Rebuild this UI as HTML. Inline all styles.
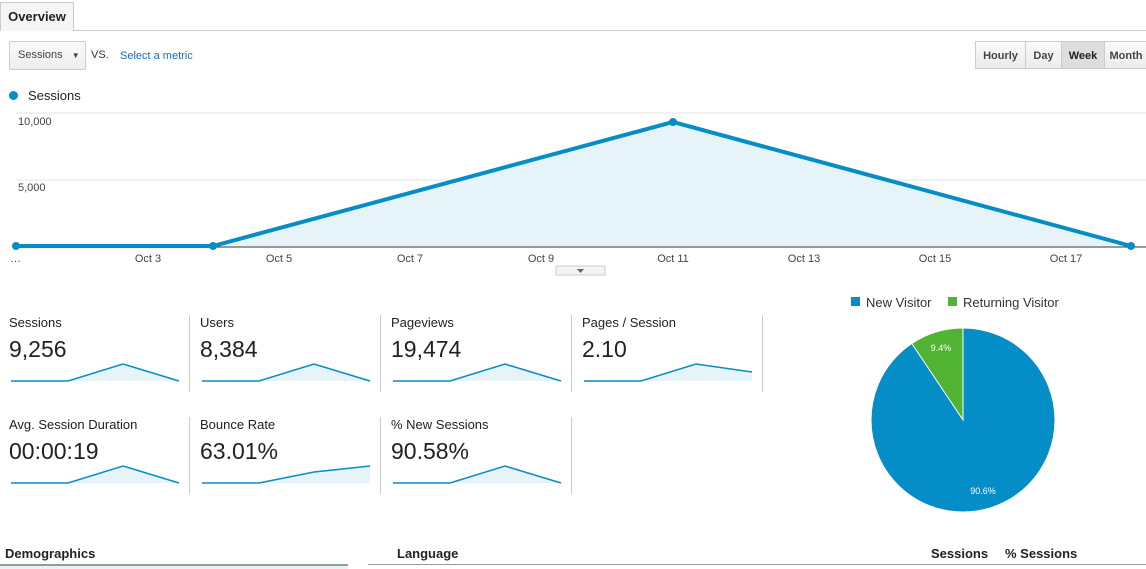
<!DOCTYPE html><html><head><style>
body{margin:0;width:1146px;height:569px;overflow:hidden;background:#fff;font-family:"Liberation Sans",Arial,sans-serif;color:#222;position:relative}
.a{position:absolute}
.btn{position:absolute;top:41px;height:28px;border:1px solid #ccc;background:linear-gradient(#fafafa,#ececec);font-size:11px;font-weight:bold;color:#444;line-height:28px;text-align:center;box-sizing:border-box}
.ml{position:absolute;font-size:13px;color:#222}
.mv{position:absolute;font-size:23px;color:#222}
.sep{position:absolute;width:1px;background:#ccc}
</style></head><body>
<div class="a" style="left:0;top:30px;width:1146px;height:1px;background:#ccc"></div>
<div class="a" style="left:0;top:2px;width:74px;height:29px;border:1px solid #ccc;border-bottom:none;background:#f5f5f5;box-sizing:border-box;font-size:13px;font-weight:bold;line-height:28px;text-align:center">Overview</div>
<div class="a" style="left:9px;top:41px;width:77px;height:29px;border:1px solid #ccc;border-radius:2px;background:linear-gradient(#fafafa,#eee);box-sizing:border-box;font-size:11px;color:#444;line-height:27px;padding-left:8px">Sessions <span style="font-size:8px;margin-left:6px">▼</span></div>
<div class="a" style="left:91px;top:49px;font-size:11px;color:#333">VS.</div>
<div class="a" style="left:120px;top:50px;font-size:11px;color:#1a6eb8">Select a metric</div>
<div class="btn" style="left:975px;width:51px">Hourly</div>
<div class="btn" style="left:1025px;width:37px">Day</div>
<div class="btn" style="left:1061px;width:44px;background:#ddd;color:#222">Week</div>
<div class="btn" style="left:1104px;width:44px">Month</div>
<div class="a" style="left:9px;top:91px;width:9px;height:9px;border-radius:50%;background:#058dc7"></div>
<div class="a" style="left:28px;top:88px;font-size:13px">Sessions</div>
<svg class="a" style="left:0;top:0" width="1146" height="300">
<line x1="16" y1="113" x2="1146" y2="113" stroke="#e5e5e5"/>
<line x1="16" y1="180" x2="1146" y2="180" stroke="#e5e5e5"/>
<line x1="16" y1="247" x2="1146" y2="247" stroke="#333"/>
<polygon points="16,246 213,246 673,122 1131,246" fill="#e6f3f9"/>
<polyline points="16,246 213,246 673,122 1131,246" fill="none" stroke="#058dc7" stroke-width="4"/>
<g fill="#058dc7"><circle cx="16" cy="246" r="4"/><circle cx="213" cy="246" r="4"/><circle cx="673" cy="122" r="4"/><circle cx="1131" cy="246" r="4"/></g>
<g font-size="11" fill="#444" font-family="Liberation Sans,sans-serif">
<text x="18" y="125">10,000</text><text x="18" y="191">5,000</text>
<text x="10" y="262">…</text>
<g text-anchor="middle"><text x="148" y="262">Oct 3</text><text x="279" y="262">Oct 5</text><text x="410" y="262">Oct 7</text><text x="541" y="262">Oct 9</text><text x="673" y="262">Oct 11</text><text x="804" y="262">Oct 13</text><text x="935" y="262">Oct 15</text><text x="1066" y="262">Oct 17</text></g></g>
<rect x="556" y="266" width="49" height="9" fill="#f3f3f3" stroke="#ccc"/>
<path d="M577 269 L584 269 L580.5 273Z" fill="#666"/>
</svg>
<div class="ml" style="left:9px;top:315px">Sessions</div><div class="mv" style="left:9px;top:336px">9,256</div>
<div class="ml" style="left:200px;top:315px">Users</div><div class="mv" style="left:200px;top:336px">8,384</div>
<div class="ml" style="left:391px;top:315px">Pageviews</div><div class="mv" style="left:391px;top:336px">19,474</div>
<div class="ml" style="left:582px;top:315px">Pages / Session</div><div class="mv" style="left:582px;top:336px">2.10</div>
<div class="ml" style="left:9px;top:417px">Avg. Session Duration</div><div class="mv" style="left:9px;top:438px">00:00:19</div>
<div class="ml" style="left:200px;top:417px">Bounce Rate</div><div class="mv" style="left:200px;top:438px">63.01%</div>
<div class="ml" style="left:391px;top:417px">% New Sessions</div><div class="mv" style="left:391px;top:438px">90.58%</div>
<div class="sep" style="left:189px;top:315px;height:77px"></div><div class="sep" style="left:380px;top:315px;height:77px"></div><div class="sep" style="left:571px;top:315px;height:77px"></div><div class="sep" style="left:762px;top:315px;height:77px"></div>
<div class="sep" style="left:189px;top:417px;height:77px"></div><div class="sep" style="left:380px;top:417px;height:77px"></div><div class="sep" style="left:571px;top:417px;height:77px"></div>
<svg class="a" style="left:0;top:0" width="1146" height="569">
<g fill="#e6f3f9" stroke="none">
<polygon points="11,381 68,381 123,364 179,381"/><polygon points="202,381 259,381 314,364 370,381"/><polygon points="393,381 450,381 505,364 561,381"/><polygon points="584,381 641,381 696,364 752,372 752,381"/>
<polygon points="11,483 68,483 123,466 179,483"/><polygon points="202,483 259,483 314,472 370,466 370,483"/><polygon points="393,483 450,483 505,466 561,483"/></g>
<g fill="none" stroke="#058dc7" stroke-width="1.5">
<polyline points="11,381 68,381 123,364 179,381"/><polyline points="202,381 259,381 314,364 370,381"/><polyline points="393,381 450,381 505,364 561,381"/><polyline points="584,381 641,381 696,364 752,372"/>
<polyline points="11,483 68,483 123,466 179,483"/><polyline points="202,483 259,483 314,472 370,466"/><polyline points="393,483 450,483 505,466 561,483"/></g>
<circle cx="963" cy="420" r="92" fill="#058dc7" stroke="#fff"/>
<path d="M963 420 L963 328 A92 92 0 0 0 911.8 343.5 Z" fill="#50b432" stroke="#fff"/>
<text x="983" y="494" font-size="9" fill="#fff" text-anchor="middle" font-family="Liberation Sans,sans-serif">90.6%</text>
<text x="941" y="351" font-size="9" fill="#fff" text-anchor="middle" font-family="Liberation Sans,sans-serif">9.4%</text>
<rect x="851" y="297" width="9" height="9" fill="#058dc7"/><text x="866" y="307" font-size="13" fill="#333" font-family="Liberation Sans,sans-serif">New Visitor</text>
<rect x="948" y="297" width="9" height="9" fill="#50b432"/><text x="963" y="307" font-size="13" fill="#333" font-family="Liberation Sans,sans-serif">Returning Visitor</text>
</svg>
<div class="a" style="left:5px;top:546px;font-size:13px;font-weight:bold">Demographics</div>
<div class="a" style="left:0;top:564px;width:348px;height:2px;background:#999"></div>
<div class="a" style="left:0;top:566px;width:348px;height:3px;background:#e6f3f9"></div>
<div class="a" style="left:397px;top:546px;font-size:13px;font-weight:bold">Language</div>
<div class="a" style="left:931px;top:546px;font-size:13px;font-weight:bold">Sessions</div>
<div class="a" style="left:1005px;top:546px;font-size:13px;font-weight:bold">% Sessions</div>
<div class="a" style="left:368px;top:564px;width:778px;height:1px;background:#999"></div>
</body></html>
